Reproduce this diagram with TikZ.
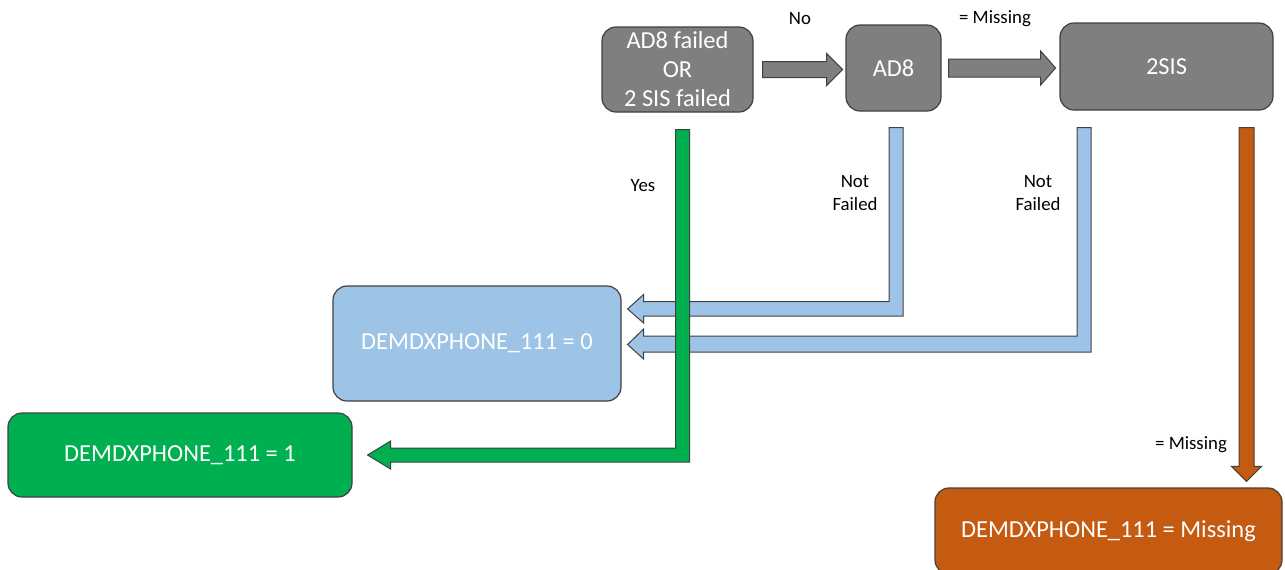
\documentclass[tikz,border=0pt]{standalone}
\usepackage{fontspec}
\setmainfont{Carlito}
\usetikzlibrary{calc}

% Colours of the flow chart
\definecolor{boxgray}{HTML}{7F7F7F}
\definecolor{boxblue}{HTML}{9DC3E6}
\definecolor{boxgreen}{HTML}{00B050}
\definecolor{boxorange}{HTML}{C55A11}
\definecolor{edgegray}{HTML}{404040}

\tikzset{
  box/.style={rounded corners=7pt, draw=edgegray, line width=0.6pt, text=white,
    align=center, inner sep=0pt,
    font=\fontsize{12.2}{14.5}\selectfont},
  flowarrow/.style={draw=edgegray, line width=0.5pt},
  lbl/.style={align=center, inner sep=0pt, font=\fontsize{9.4}{11.5}\selectfont}
}

\begin{document}
\begin{tikzpicture}[x=0.5pt, y=-0.5pt]

% Page size of the reference
\useasboundingbox (0,0) rectangle (1285,569);

% Decision boxes on top
\node[box, fill=boxgray, minimum width=75.5pt, minimum height=42.5pt] (cond) at (677.5,69.5)
  {AD8 failed\\OR\\2 SIS failed};
\node[box, fill=boxgray, minimum width=47.5pt, minimum height=43pt] (ad8) at (893.5,68) {AD8};
\node[box, fill=boxgray, minimum width=106.5pt, minimum height=43.5pt] (sis) at (1166.5,66.5) {2SIS};

% Result boxes
\node[box, fill=boxblue, minimum width=144pt, minimum height=57.5pt] (zero) at (477,343.5)
  {DEMDXPHONE\_111 = 0};
\node[box, fill=boxgreen, minimum width=172pt, minimum height=42pt] (one) at (180,455)
  {DEMDXPHONE\_111 = 1};
\node[box, fill=boxorange, minimum width=173.5pt, minimum height=43pt] (miss) at (1108.5,531)
  {DEMDXPHONE\_111 = Missing};

% Gray arrows between the decisions
\draw[flowarrow, fill=boxgray] ($(cond.east)+(9,-8)$) -- ++(64,0) -- ++(0,-8) -- ++(16,16)
  -- ++(-16,16) -- ++(0,-8) -- ++(-64,0) -- cycle;
\draw[flowarrow, fill=boxgray] ($(ad8.east)+(7,-9)$) -- ++(92,0) -- ++(0,-8) -- ++(15,17)
  -- ++(-15,17) -- ++(0,-8) -- ++(-92,0) -- cycle;

% Blue arrows to DEMDXPHONE_111 = 0
\coordinate (b1) at ($(ad8.south)+(-4.5,16)$);
\draw[flowarrow, fill=boxblue] (b1) -- ++(14,0) |- ($(zero.east)+(22,-27.5)$) -- ++(0,7)
  -- ($(zero.east)+(6,-34.5)$) -- ($(zero.east)+(22,-49)$) -- ++(0,7) -| (b1) -- cycle;
\coordinate (b2) at ($(sis.south)+(-89.5,17)$);
\draw[flowarrow, fill=boxblue] (b2) -- ++(14,0) |- ($(zero.east)+(22,8.5)$) -- ++(0,7)
  -- ($(zero.east)+(6,1)$) -- ($(zero.east)+(22,-14.5)$) -- ++(0,7) -| (b2) -- cycle;

% Orange arrow to DEMDXPHONE_111 = Missing
\coordinate (o1) at ($(sis.south)+(72.5,17)$);
\draw[flowarrow, fill=boxorange] (o1) -- ++(15,0) -- ($(miss.north)+(145.5,-21)$) -- ++(7.5,0)
  -- ($(miss.north)+(138,-6)$) -- ($(miss.north)+(123,-21)$) -- ++(7.5,0) -- cycle;

% Green arrow to DEMDXPHONE_111 = 1
\coordinate (g1) at ($(cond.south)+(-2,17)$);
\draw[flowarrow, fill=boxgreen] (g1) -- ++(14,0) |- ($(one.east)+(38,7)$) -- ++(0,7)
  -- ($(one.east)+(15,0)$) -- ($(one.east)+(38,-14)$) -- ++(0,7) -| (g1) -- cycle;

% Labels of the branches
\node[lbl] (lno) at (800,19) {No};
\node[lbl] (lmis1) at (995,19) {= Missing};
\node[lbl] (lyes) at (643,186) {Yes};
\node[lbl] (lnf1) at (855,193) {Not\\Failed};
\node[lbl] (lnf2) at (1038,193) {Not\\Failed};
\node[lbl] (lmis2) at (1191,445) {= Missing};

\end{tikzpicture}
\end{document}
